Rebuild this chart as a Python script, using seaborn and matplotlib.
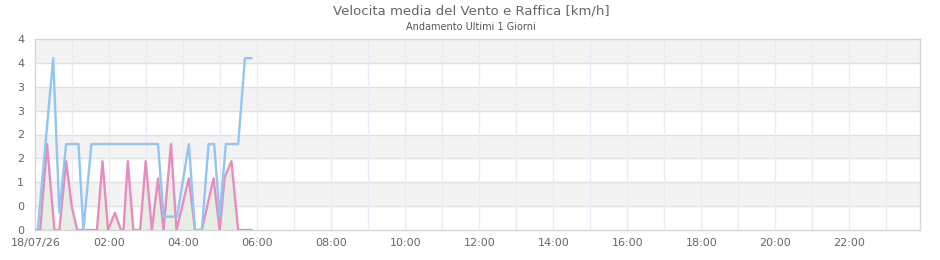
import matplotlib
matplotlib.use("Agg")
import matplotlib.pyplot as plt
import seaborn as sns
import numpy as np
import pandas as pd

# ---- data (minutes from 00:00, km/h) ----
media_min = [0, 8, 19, 31, 39, 50, 59, 68, 100, 109, 118, 129, 139, 143, 150, 159,
             170, 179, 189, 199, 208, 220, 229, 249, 259, 270, 289, 299, 307, 318, 329, 351]
media_val = [0, 0, 1.8, 0, 0, 1.44, 0.5, 0, 0, 1.44, 0, 0.36, 0, 0, 1.44, 0,
             0, 1.44, 0, 1.08, 0, 1.8, 0, 1.08, 0, 0, 1.08, 0, 1.1, 1.44, 0, 0]

raffica_min = [0, 4, 29, 39, 50, 70, 78, 91, 199, 208, 230, 249, 259, 270, 281,
               290, 299, 309, 329, 340, 351]
raffica_val = [0, 0, 3.6, 0.36, 1.8, 1.8, 0, 1.8, 1.8, 0.28, 0.28, 1.8, 0, 0, 1.8,
               1.8, 0.28, 1.8, 1.8, 3.6, 3.6]

x_tick_hours = [0, 2, 4, 6, 8, 10, 12, 14, 16, 18, 20, 22]
x_tick_labels = ["18/07/26", "02:00", "04:00", "06:00", "08:00", "10:00",
                 "12:00", "14:00", "16:00", "18:00", "20:00", "22:00"]
y_ticks = [0, 0.5, 1, 1.5, 2, 2.5, 3, 3.5, 4]
y_tick_labels = ["0", "0", "1", "2", "2", "3", "3", "4", "4"]

title = "Velocita media del Vento e Raffica [km/h]"
subtitle = "Andamento Ultimi 1 Giorni"

sns.set_style("white")
plt.rcParams['font.family'] = ['DejaVu Sans']

df_m = pd.DataFrame({"h": np.array(media_min) / 60.0, "v": media_val})
df_r = pd.DataFrame({"h": np.array(raffica_min) / 60.0, "v": raffica_val})

fig = plt.figure(figsize=(9.4, 2.6), dpi=100)
ax = fig.add_axes([35.3 / 940, 30 / 260, (920 - 35.3) / 940, (230 - 39) / 260])

xmax = (920 - 35.3) / 37.0
ax.set_xlim(0, xmax)
ax.set_ylim(0, 4)

# alternating bands
for lo in [0.5, 1.5, 2.5, 3.5]:
    ax.axhspan(lo, lo + 0.5, color="#f3f3f3", zorder=0, lw=0)
for y in y_ticks[1:-1]:
    ax.axhline(y, color="#e0e0e0", lw=1, zorder=1)
for hh in range(1, 24):
    ax.axvline(hh, color="#ece9f8", lw=1, zorder=1)

ax.fill_between(df_m["h"], df_m["v"], 0, color="#e5ede1", alpha=0.9, zorder=2, lw=0)
sns.lineplot(data=df_m, x="h", y="v", ax=ax, color="#e88cc0", lw=1.7, zorder=3)
sns.lineplot(data=df_r, x="h", y="v", ax=ax, color="#92c5f2", lw=1.7, zorder=4)

ax.set_xticks(x_tick_hours)
ax.set_xticklabels(x_tick_labels)
ax.set_yticks(y_ticks)
ax.set_yticklabels(y_tick_labels)
ax.tick_params(axis="both", length=0, labelsize=8, colors="#666666")
ax.tick_params(axis="x", pad=6)
ax.tick_params(axis="y", pad=8)
ax.set_xlabel("")
ax.set_ylabel("")
for s in ax.spines.values():
    s.set_visible(True)
    s.set_color("#d6d6d6")
    s.set_linewidth(1)

fig.text(471 / 940, 1 - 11 / 260, title, ha="center", va="center", fontsize=9.5, color="#666666")
fig.text(471 / 940, 1 - 27 / 260, subtitle, ha="center", va="center", fontsize=7, color="#555555")

fig.savefig("out.png", dpi=100)
